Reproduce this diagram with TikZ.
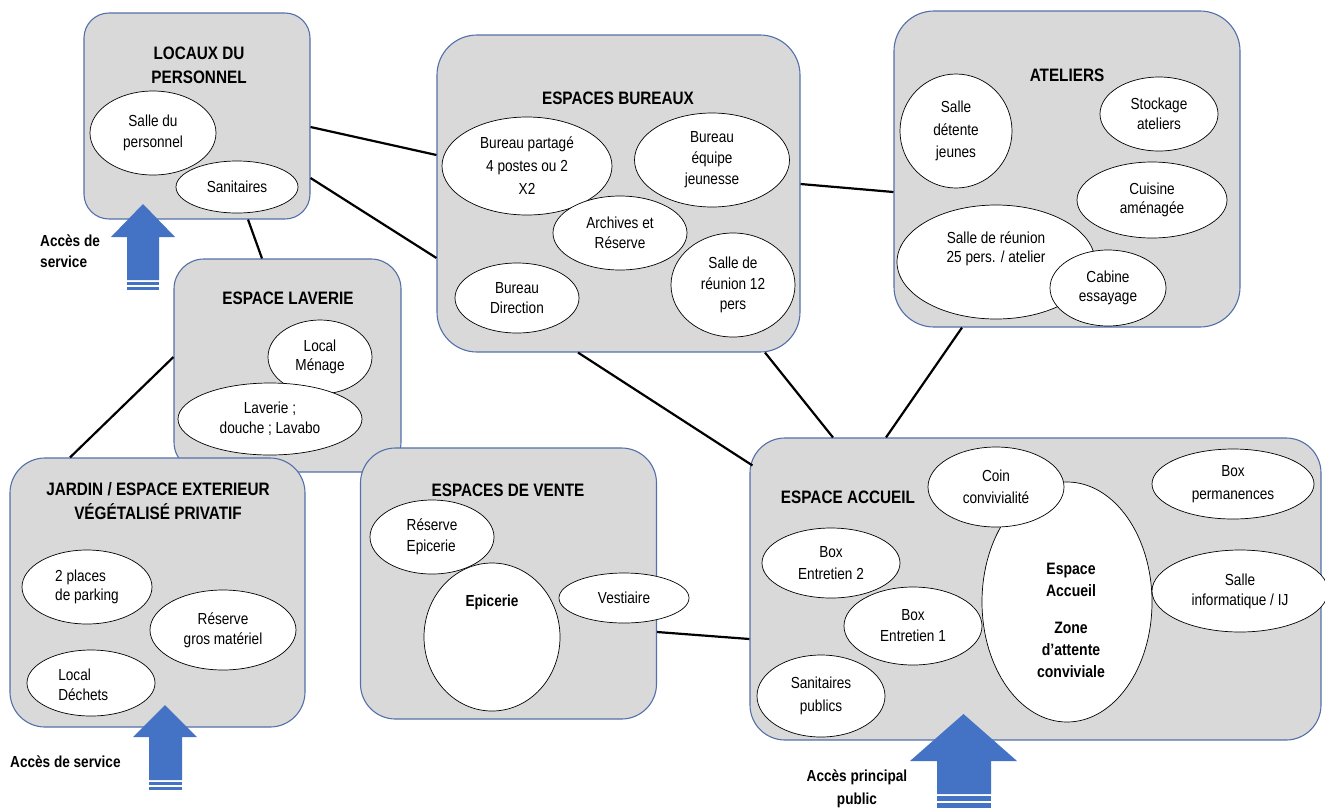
\documentclass[tikz,border=0pt]{standalone}
\usepackage{fontspec}
\setmainfont{Liberation Sans}[FakeStretch=0.85]
\usetikzlibrary{shapes.geometric,calc}
\definecolor{boxfill}{RGB}{217,217,217}
\definecolor{boxline}{RGB}{84,112,170}
\definecolor{arrowblue}{RGB}{68,114,196}
\tikzset{
 zone/.style={draw=boxline, fill=boxfill, line width=1.1pt, rectangle, inner sep=0pt},
 room/.style={draw=black, fill=white, ellipse, line width=0.7pt, inner sep=0pt, align=center,
   font=\fontsize{16}{21}\selectfont},
 lsp/.style={font=\fontsize{16}{#1}\selectfont},
 ztitle/.style={font=\fontsize{18}{24}\selectfont\bfseries, align=center, inner sep=0pt},
 rtxt/.style={font=\fontsize{16.5}{22}\selectfont\bfseries, align=center, inner sep=0pt},
 link/.style={draw=black, line width=2.2pt},
 bigarrow/.style={fill=arrowblue, draw=none},
 acc/.style={font=\fontsize{16}{21}\selectfont\bfseries, inner sep=0pt},
}
\begin{document}
\begin{tikzpicture}[x=1pt,y=-1pt]
\useasboundingbox (0,0) rectangle (1325,807);
\fill[white] (0,0) rectangle (1325,807);

% zones
\node[zone, minimum width=226pt, minimum height=206pt, rounded corners=25pt] (locaux) at (197,116) {};
\node[zone, minimum width=363pt, minimum height=317pt, rounded corners=40pt] (bureaux) at (618.5,193.5) {};
\node[zone, minimum width=346pt, minimum height=316pt, rounded corners=40pt] (ateliers) at (1067,169) {};
\node[zone, minimum width=227pt, minimum height=213pt, rounded corners=30pt] (laverie) at (287.5,365.5) {};
\node[zone, minimum width=295pt, minimum height=269pt, rounded corners=35pt] (jardin) at (157.5,592.5) {};
\node[zone, minimum width=296pt, minimum height=271pt, rounded corners=35pt] (vente) at (508.5,583.5) {};
\node[zone, minimum width=571pt, minimum height=302pt, rounded corners=35pt] (accueil) at (1035.5,589) {};

% connectors
\draw[link] ($(locaux.east)+(0,11)$) -- ($(bureaux.west)+(0,-38.5)$);
\draw[link] ($(locaux.east)+(0,62)$) -- ($(bureaux.west)+(0,64.5)$);
\draw[link] ($(locaux.south)+(51,0)$) -- ($(laverie.north)+(-25.5,0)$);
\draw[link] ($(laverie.west)+(0,-8.5)$) -- ($(jardin.north)+(-87.5,0)$);
\draw[link] ($(bureaux.east)+(0,-9.5)$) -- ($(ateliers.west)+(0,23)$);
\draw[link] ($(bureaux.south)+(-40.5,0)$) -- ($(accueil.north west)+(3,28)$);
\draw[link] ($(bureaux.south)+(146.5,0)$) -- ($(accueil.north)+(-202.5,0)$);
\draw[link] ($(ateliers.south)+(-105,0)$) -- ($(accueil.north)+(-149.5,0)$);
\draw[link] ($(vente.east)+(0,48.5)$) -- ($(accueil.west)+(0,50)$);

% titles
\node[ztitle] (tlocaux) at (199,65) {LOCAUX DU\\PERSONNEL};
\node[ztitle] (tbureaux) at (618,98) {ESPACES BUREAUX};
\node[ztitle] (tateliers) at (1067,75) {ATELIERS};
\node[ztitle] (tlaverie) at (288,298) {ESPACE LAVERIE};
\node[ztitle] (tjardin) at (158,501) {JARDIN / ESPACE EXTERIEUR\\VÉGÉTALISÉ PRIVATIF};
\node[ztitle] (tvente) at (508,490) {ESPACES DE VENTE};
\node[ztitle] (taccueil) at (848,497) {ESPACE ACCUEIL};

% locaux
\node[room, minimum width=126pt, minimum height=84pt] (salleperso) at (153,133) {Salle du\\personnel};
\node[room, minimum width=122pt, minimum height=52pt] (sanit) at (237,187) {Sanitaires};

% bureaux
\node[room, lsp=23, minimum width=170pt, minimum height=98pt] (bpartage) at (527,166) {Bureau partagé\\4 postes ou 2\\X2};
\node[room, minimum width=155pt, minimum height=94pt] (bequipe) at (712,160) {Bureau\\équipe\\jeunesse};
\node[room, lsp=20, minimum width=124pt, minimum height=70pt] (bdirection) at (517,298) {Bureau\\Direction};
\node[room, lsp=20, minimum width=134pt, minimum height=74pt] (archives) at (620,233) {Archives et\\Réserve};
\node[room, lsp=20.5, minimum width=124pt, minimum height=104pt] (reunion12) at (733,285) {Salle de\\réunion 12\\pers};

% ateliers
\node[room, lsp=22.5, minimum width=112pt, minimum height=114pt] (detente) at (956,131) {Salle\\détente\\jeunes};
\node[room, lsp=20, minimum width=118pt, minimum height=74pt] (stockage) at (1159,114) {Stockage\\ateliers};
\node[room, lsp=19.5, minimum width=150pt, minimum height=76pt] (cuisine) at (1152,200) {Cuisine\\aménagée};
\node[room, minimum width=198pt, minimum height=114pt] (reunion25) at (996,262) {};
\node[room, lsp=19.5, draw=none, fill=none, shape=rectangle] (treunion25) at (996,249) {Salle de réunion\\25 pers. / atelier};
\node[room, lsp=19.5, minimum width=116pt, minimum height=76pt] (cabine) at (1108,288) {Cabine\\essayage};

% laverie
\node[room, lsp=19.5, minimum width=104pt, minimum height=74pt] (menage) at (320,357) {Local\\Ménage};
\node[room, lsp=20, minimum width=184pt, minimum height=72pt] (laverieel) at (270,419) {Laverie ;\\douche ; Lavabo};

% jardin
\node[room, lsp=19.5, align=left, minimum width=130pt, minimum height=74pt] (parking) at (87,587) {2 places\\de parking};
\node[room, lsp=20, minimum width=146pt, minimum height=80pt] (grosmat) at (223,630) {Réserve\\gros matériel};
\node[room, minimum width=128pt, minimum height=66pt] (dechets) at (91,683) {};
\node[room, lsp=20, align=left, draw=none, fill=none, shape=rectangle, anchor=west] (tdechets) at (58,685) {Local\\Déchets};

% vente
\node[room, lsp=21, align=left, minimum width=124pt, minimum height=74pt] (resepicerie) at (432,537) {Réserve\\Epicerie};
\node[room, minimum width=136pt, minimum height=148pt] (epicerie) at (492,637) {};
\node[rtxt, font=\fontsize{16}{21}\selectfont\bfseries] (tepicerie) at (492,602) {Epicerie};
\node[room, minimum width=130pt, minimum height=50pt] (vestiaire) at (624,598) {Vestiaire};

% accueil
\node[room, minimum width=170pt, minimum height=240pt] (bigel) at (1067,602) {};
\node[rtxt] (tbigel) at (1071,620) {Espace\\Accueil\\[15pt]Zone\\d’attente\\conviviale};
\node[room, lsp=22, minimum width=136pt, minimum height=80pt] (coin) at (996,487) {Coin\\convivialité};
\node[room, lsp=23, minimum width=162pt, minimum height=70pt] (boxperm) at (1233,484) {Box\\permanences};
\node[room, lsp=20, minimum width=176pt, minimum height=82pt] (salleinfo) at (1240,591) {Salle\\informatique / IJ};
\node[room, lsp=22, minimum width=138pt, minimum height=70pt] (boxe2) at (831,563) {Box\\Entretien 2};
\node[room, lsp=21, minimum width=138pt, minimum height=78pt] (boxe1) at (913,626) {Box\\Entretien 1};
\node[room, lsp=23, minimum width=128pt, minimum height=82pt] (sanpub) at (821,696) {Sanitaires\\publics};

% access arrows
\fill[bigarrow] (143,204) -- (175,237) -- (159,237) -- (159,280) -- (127,280) -- (127,237) -- (111,237) -- cycle;
\fill[bigarrow] (127,281.5) rectangle (159,285);
\fill[bigarrow] (127,286.5) rectangle (159,290);
\fill[bigarrow] (165,705) -- (197,737) -- (182,737) -- (182,780) -- (149,780) -- (149,737) -- (133,737) -- cycle;
\fill[bigarrow] (149,781.5) rectangle (182,785);
\fill[bigarrow] (149,786.5) rectangle (182,790);
\fill[bigarrow] (963.5,714) -- (1017,761) -- (991,761) -- (991,794) -- (937,794) -- (937,761) -- (910,761) -- cycle;
\fill[bigarrow] (937,795.5) rectangle (991,801);
\fill[bigarrow] (937,803) rectangle (991,808);

% access labels
\node[acc, align=left, anchor=west] (acc1) at (40,251) {Accès de\\service};
\node[acc, anchor=west] (acc2) at (10,762) {Accès de service};
\node[acc, align=center, font=\fontsize{16}{23}\selectfont\bfseries] (acc3) at (857,789) {Accès principal\\public};
\end{tikzpicture}
\end{document}
